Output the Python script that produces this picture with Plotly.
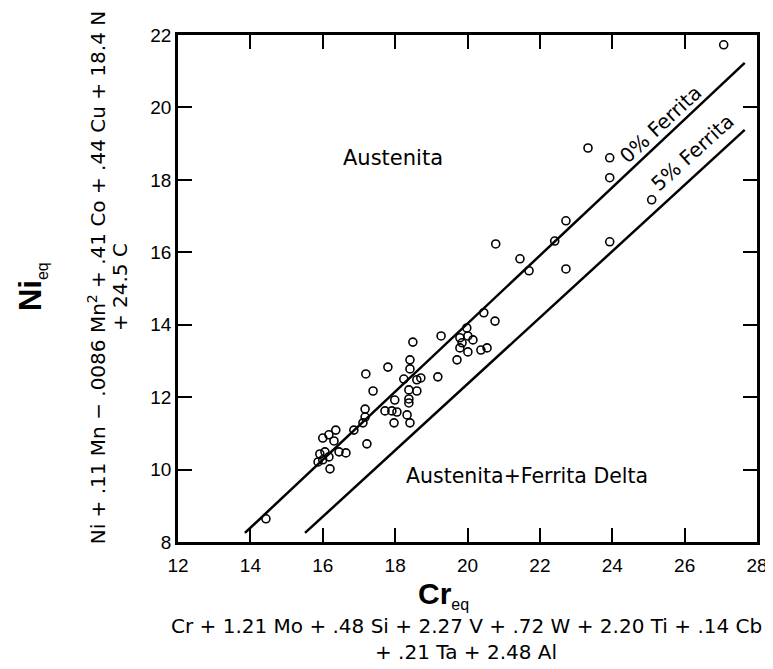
import plotly.graph_objects as go

# Data points (Cr_eq, Ni_eq)
cr_eq = [14.43, 16.36, 16.17, 16.00, 16.31, 16.06, 15.92, 16.45, 16.64, 16.17, 15.87, 16.00, 16.20,
         16.86, 17.22, 17.17, 17.17, 17.11, 17.72, 17.91, 18.05, 17.19, 17.39, 17.80, 18.41, 18.41,
         18.24, 18.60, 18.71, 18.38, 18.60, 17.99, 18.38, 18.38, 18.33, 17.97, 18.41, 18.49, 19.18,
         19.27, 19.98, 20.01, 19.79, 19.85, 20.15, 19.79, 20.01, 20.37, 20.54, 19.71, 20.45, 20.76,
         20.78, 21.45, 21.70, 22.41, 22.72, 22.72, 23.93, 23.33, 23.93, 23.93, 25.09, 27.08]
ni_eq = [8.64, 11.09, 10.96, 10.87, 10.79, 10.49, 10.43, 10.49, 10.46, 10.35, 10.21, 10.27, 10.02,
         11.09, 10.71, 11.67, 11.45, 11.29, 11.62, 11.62, 11.59, 12.64, 12.17, 12.83, 13.03, 12.78,
         12.50, 12.48, 12.53, 12.20, 12.17, 11.92, 11.95, 11.84, 11.51, 11.29, 11.29, 13.52, 12.56,
         13.69, 13.91, 13.69, 13.64, 13.50, 13.58, 13.36, 13.25, 13.30, 13.36, 13.03, 14.33, 14.10,
         16.23, 15.82, 15.49, 16.31, 16.87, 15.54, 16.29, 18.88, 18.61, 18.06, 17.45, 21.73]

# Boundary lines
line0_x = [13.85, 27.66]
line0_y = [8.25, 21.23]
line5_x = [15.51, 27.66]
line5_y = [8.25, 19.38]

x_ticks = [12, 14, 16, 18, 20, 22, 24, 26, 28]
y_ticks = [8, 10, 12, 14, 16, 18, 20, 22]

TXT = "DejaVu Sans, sans-serif"
TICK = "Liberation Sans, Arial, sans-serif"
BOLD = "Liberation Sans, Arial, sans-serif"

fig = go.Figure()
fig.add_trace(go.Scatter(x=line0_x, y=line0_y, mode="lines",
                         line=dict(color="black", width=2.5), showlegend=False, hoverinfo="skip"))
fig.add_trace(go.Scatter(x=line5_x, y=line5_y, mode="lines",
                         line=dict(color="black", width=2.5), showlegend=False, hoverinfo="skip"))
fig.add_trace(go.Scatter(x=cr_eq, y=ni_eq, mode="markers",
                         marker=dict(symbol="circle-open", size=8, color="black",
                                     line=dict(color="black", width=1.6)),
                         showlegend=False))

axis_common = dict(showline=True, linecolor="black", linewidth=2.8, mirror="ticks",
                   ticks="inside", ticklen=14, tickwidth=1.5, tickcolor="black",
                   showgrid=False, zeroline=False, automargin=False,
                   tickfont=dict(family=TICK, size=19, color="black"))

fig.update_xaxes(range=[12, 28], tickvals=x_ticks, ticktext=[str(v) for v in x_ticks],
                 ticklabelstandoff=4, **axis_common)
fig.update_yaxes(range=[8, 22], tickvals=y_ticks, ticktext=[str(v) for v in y_ticks], **axis_common)


def note(x, y, text, size, ref="data", angle=0, family=TXT):
    xr, yr = ("x", "y") if ref == "data" else ("paper", "paper")
    return dict(x=x, y=y, xref=xr, yref=yr, text=text, showarrow=False, textangle=angle,
                xanchor="center", yanchor="middle",
                font=dict(family=family, size=size, color="black"))


ann = [
    note(17.94, 18.61, "Austenita", 21),
    note(21.64, 9.82, "Austenita+Ferrita Delta", 20.5),
    note(25.34, 19.55, "0% Ferrita", 20, angle=-43),
    note(26.23, 18.77, "5% Ferrita", 20, angle=-42),
    # x-axis titles
    note(0.458, -0.105, "<b>Cr</b><sub><span style='font-size:16px'>eq</span></sub>", 30,
         ref="paper", family=BOLD),
    note(0.499, -0.166, "Cr + 1.21 Mo + .48 Si + 2.27 V + .72 W + 2.20 Ti + .14 Cb", 20, ref="paper"),
    note(0.498, -0.217, "+ .21 Ta + 2.48 Al", 20, ref="paper"),
    # y-axis titles
    note(-0.252, 0.503, "<b>Ni</b><sub><span style='font-size:16px'>eq</span></sub>", 31,
         ref="paper", angle=-90, family=BOLD),
    note(-0.140, 0.522, "Ni + .11 Mn \u2212 .0086 Mn<sup>2</sup> + .41 Co + .44 Cu + 18.4 N", 20,
         ref="paper", angle=-90),
    note(-0.100, 0.503, "+ 24.5 C", 20, ref="paper", angle=-90),
]

# page body has an 8px default margin, so shrink the figure accordingly
fig.update_layout(width=765, height=661, margin=dict(l=170, r=16, t=27, b=127, autoexpand=False),
                  paper_bgcolor="white", plot_bgcolor="white", annotations=ann)

fig.write_html("out.html")
